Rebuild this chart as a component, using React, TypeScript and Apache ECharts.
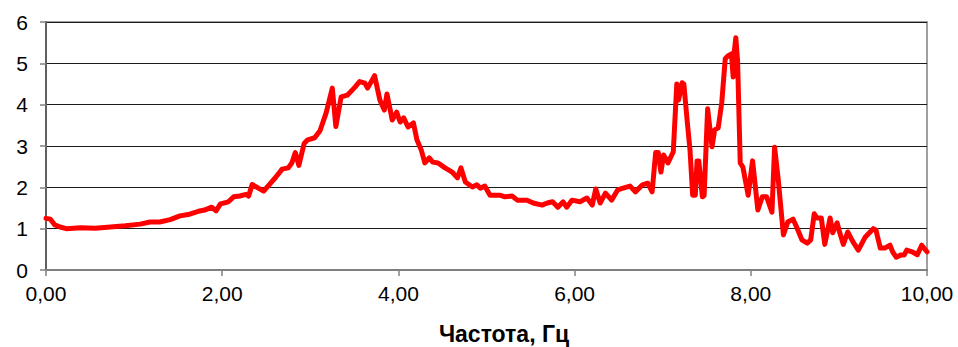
import React, { useEffect, useRef } from "react";
import * as echarts from "echarts";

const xTickLabels = ["0,00", "2,00", "4,00", "6,00", "8,00", "10,00"];
const yTickLabels = ["0", "1", "2", "3", "4", "5", "6"];
const axisTitle = "Частота, Гц";

const freqs = [
  0.0, 0.05, 0.1, 0.16, 0.23, 0.39, 0.56, 0.73, 0.9, 1.07, 1.18, 1.29, 1.41, 1.52, 1.63, 1.73, 1.8, 1.88, 1.93, 1.98,
  2.07, 2.13, 2.2, 2.27, 2.3, 2.34, 2.41, 2.47, 2.54, 2.61, 2.68, 2.75, 2.79, 2.83, 2.87, 2.93, 2.97, 3.05, 3.11, 3.18,
  3.25, 3.29, 3.35, 3.42, 3.51, 3.56, 3.62, 3.65, 3.73, 3.79, 3.84, 3.87, 3.93, 3.98, 4.02, 4.06, 4.11, 4.17, 4.21, 4.26,
  4.3, 4.35, 4.39, 4.45, 4.53, 4.61, 4.67, 4.71, 4.76, 4.84, 4.89, 4.93, 4.98, 5.04, 5.15, 5.21, 5.29, 5.35, 5.46, 5.53,
  5.63, 5.69, 5.75, 5.81, 5.87, 5.91, 5.97, 6.06, 6.14, 6.2, 6.24, 6.29, 6.35, 6.42, 6.49, 6.55, 6.63, 6.69, 6.77, 6.83,
  6.88, 6.92, 6.95, 6.98, 7.01, 7.06, 7.12, 7.16, 7.18, 7.22, 7.24, 7.28, 7.31, 7.34, 7.37, 7.39, 7.41, 7.45, 7.47, 7.51,
  7.56, 7.59, 7.63, 7.67, 7.71, 7.74, 7.78, 7.8, 7.81, 7.83, 7.85, 7.88, 7.91, 7.97, 8.02, 8.08, 8.13, 8.18, 8.24, 8.27,
  8.31, 8.37, 8.42, 8.48, 8.52, 8.58, 8.64, 8.68, 8.72, 8.75, 8.8, 8.84, 8.9, 8.93, 8.98, 9.01, 9.05, 9.1, 9.16, 9.22,
  9.3, 9.39, 9.42, 9.47, 9.52, 9.58, 9.61, 9.65, 9.7, 9.74, 9.77, 9.83, 9.89, 9.94, 10.0,
];

const amplitudes = [
  1.25, 1.23, 1.09, 1.04, 1.0, 1.02, 1.01, 1.04, 1.07, 1.11, 1.16, 1.16, 1.22, 1.31, 1.35, 1.42, 1.45, 1.52, 1.43, 1.6,
  1.65, 1.77, 1.79, 1.83, 1.79, 2.07, 1.98, 1.91, 2.08, 2.25, 2.44, 2.47, 2.59, 2.84, 2.53, 3.06, 3.15, 3.2, 3.37, 3.8,
  4.4, 3.47, 4.19, 4.23, 4.43, 4.56, 4.52, 4.4, 4.7, 4.11, 3.87, 4.26, 3.63, 3.82, 3.58, 3.68, 3.46, 3.56, 3.15, 2.9,
  2.59, 2.71, 2.61, 2.59, 2.47, 2.37, 2.23, 2.47, 2.13, 2.01, 2.06, 1.98, 2.03, 1.81, 1.81, 1.77, 1.79, 1.69, 1.69, 1.62,
  1.57, 1.62, 1.65, 1.52, 1.65, 1.52, 1.69, 1.65, 1.74, 1.57, 1.96, 1.62, 1.86, 1.69, 1.94, 1.98, 2.03, 1.89, 2.06, 2.1,
  1.89, 2.84, 2.84, 2.37, 2.78, 2.59, 2.86, 4.5, 4.11, 4.53, 4.5, 3.56, 2.9, 1.81, 1.81, 2.64, 2.64, 1.77, 1.8, 3.9,
  2.98, 3.39, 3.44, 4.04, 5.11, 5.18, 5.23, 4.67, 5.23, 5.62, 5.06, 2.59, 2.49, 1.81, 2.64, 1.45, 1.77, 1.77, 1.4, 2.97,
  2.22, 0.85, 1.16, 1.23, 1.04, 0.73, 0.65, 0.73, 1.36, 1.26, 1.26, 0.62, 1.26, 0.9, 1.14, 0.9, 0.62, 0.92, 0.68, 0.48,
  0.8, 1.0, 0.97, 0.53, 0.53, 0.6, 0.44, 0.31, 0.36, 0.36, 0.48, 0.44, 0.37, 0.6, 0.44,
];

const FONT = 'Arial, "Liberation Sans", sans-serif';

export default function App() {
  const ref = useRef<HTMLDivElement>(null);

  useEffect(() => {
    if (!ref.current) return;
    const chart = echarts.init(ref.current, undefined, { renderer: "svg" });
    const data = freqs.map((f, i) => [f, amplitudes[i]]);
    chart.setOption({
      animation: false,
      backgroundColor: "#ffffff",
      grid: {
        left: 46,
        right: 31,
        top: 22,
        bottom: 77,
        show: true,
        borderColor: "#a0a0a0",
        borderWidth: 2,
        backgroundColor: "transparent",
      },
      xAxis: {
        type: "value",
        min: 0,
        max: 10,
        interval: 2,
        axisLine: { show: true, onZero: false, lineStyle: { color: "#808080", width: 2 } },
        axisTick: { show: true, length: 6, lineStyle: { color: "#808080", width: 1.5 } },
        splitLine: { show: false },
        axisLabel: {
          color: "#000",
          fontSize: 21,
          fontFamily: FONT,
          margin: 13,
          formatter: (v: number) => xTickLabels[Math.round(v / 2)] ?? "",
        },
      },
      yAxis: {
        type: "value",
        min: 0,
        max: 6,
        interval: 1,
        axisLine: { show: true, lineStyle: { color: "#606060", width: 2 } },
        axisTick: { show: true, length: 6, lineStyle: { color: "#808080", width: 1.5 } },
        splitLine: { show: true, lineStyle: { color: "#1a1a1a", width: 1 } },
        axisLabel: {
          color: "#000",
          fontSize: 21,
          fontFamily: FONT,
          margin: 18,
          formatter: (v: number) => yTickLabels[Math.round(v)] ?? "",
        },
      },
      graphic: [
        {
          type: "text",
          x: 504,
          y: 334,
          style: {
            text: axisTitle,
            fill: "#000",
            font: `bold 23px ${FONT}`,
            textAlign: "center",
            textVerticalAlign: "middle",
          },
        },
      ],
      series: [
        {
          type: "line",
          data,
          showSymbol: false,
          symbol: "none",
          lineStyle: { color: "#ff0000", width: 5, join: "round", cap: "round" },
          z: 3,
        },
      ],
    });
    return () => chart.dispose();
  }, []);

  return (
    <div
      ref={ref}
      style={{ position: "fixed", left: 0, top: 0, width: 958, height: 347, background: "#fff" }}
    />
  );
}
